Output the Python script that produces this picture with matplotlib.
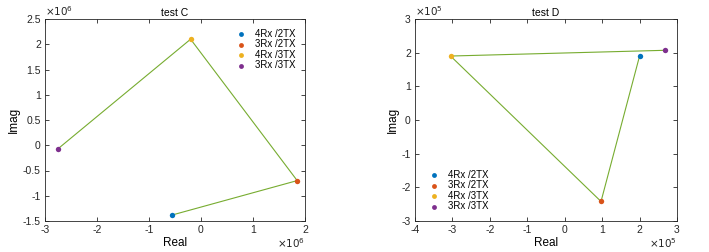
import matplotlib
matplotlib.use("Agg")
import matplotlib.pyplot as plt
from matplotlib.ticker import FuncFormatter, MultipleLocator

plt.rcParams['font.family'] = ['Liberation Sans', 'DejaVu Sans']

labels = ['4Rx /2TX', '3Rx /2TX', '4Rx /3TX', '3Rx /3TX']
colors = ['#0072BD', '#D95319', '#EDB120', '#7E2F8E']
line_color = '#77AC30'

# test C (units: 1e6)
c_real = [-0.55e6, 1.85e6, -0.20e6, -2.75e6]
c_imag = [-1.38e6, -0.70e6, 2.10e6, -0.07e6]
# test D (units: 1e5)
d_real = [2.00e5, 0.97e5, -3.05e5, 2.67e5]
d_imag = [1.90e5, -2.42e5, 1.90e5, 2.07e5]

fig = plt.figure(figsize=(7.09, 2.52), dpi=100)
ax1 = fig.add_axes([45/709, 1-221/252, 260/709, 202/252])
ax2 = fig.add_axes([415/709, 1-221/252, 262/709, 202/252])

def setup(ax, re, im, scale, exp, xlim, ylim, xstep, ystep, title, legloc):
    ax.plot(re, im, color=line_color, lw=0.8, zorder=1)
    for r, i, c, l in zip(re, im, colors, labels):
        ax.scatter([r], [i], s=15, color=c, label=l, zorder=2, linewidths=0)
    ax.set_xlim(xlim[0]*scale, xlim[1]*scale)
    ax.set_ylim(ylim[0]*scale, ylim[1]*scale)
    ax.xaxis.set_major_locator(MultipleLocator(xstep*scale))
    ax.yaxis.set_major_locator(MultipleLocator(ystep*scale))
    fmt = FuncFormatter(lambda v, p: '%g' % round(v/scale, 6))
    ax.xaxis.set_major_formatter(fmt)
    ax.yaxis.set_major_formatter(fmt)
    ax.tick_params(direction='in', top=True, right=True, labelsize=7.5, length=3, width=0.6, pad=3, colors='#262626')
    for s in ax.spines.values():
        s.set_linewidth(0.6)
        s.set_color('#262626')
    ax.set_title(title, fontsize=7.5, pad=2, color='#000000')
    ax.set_xlabel('Real', fontsize=8.5, labelpad=1)
    ax.set_ylabel('Imag', fontsize=8.5, labelpad=2)
    ax.text(1.0, -0.075, r'$\times10^{%d}$' % exp, transform=ax.transAxes, fontsize=7.5, ha='right', va='top', color='#262626')
    ax.text(0.0, 1.005, r'$\times10^{%d}$' % exp, transform=ax.transAxes, fontsize=7.5, ha='left', va='bottom', color='#262626')
    ax.legend(loc=legloc, frameon=False, fontsize=7, handletextpad=0.4, labelspacing=0.05, borderaxespad=0.6, markerscale=0.9)

setup(ax1, c_real, c_imag, 1e6, 6, (-3, 2), (-1.5, 2.5), 1, 0.5, 'test C', 'upper right')
setup(ax2, d_real, d_imag, 1e5, 5, (-4, 3), (-3, 3), 1, 1, 'test D', 'lower left')

fig.savefig('out.png', dpi=100)
